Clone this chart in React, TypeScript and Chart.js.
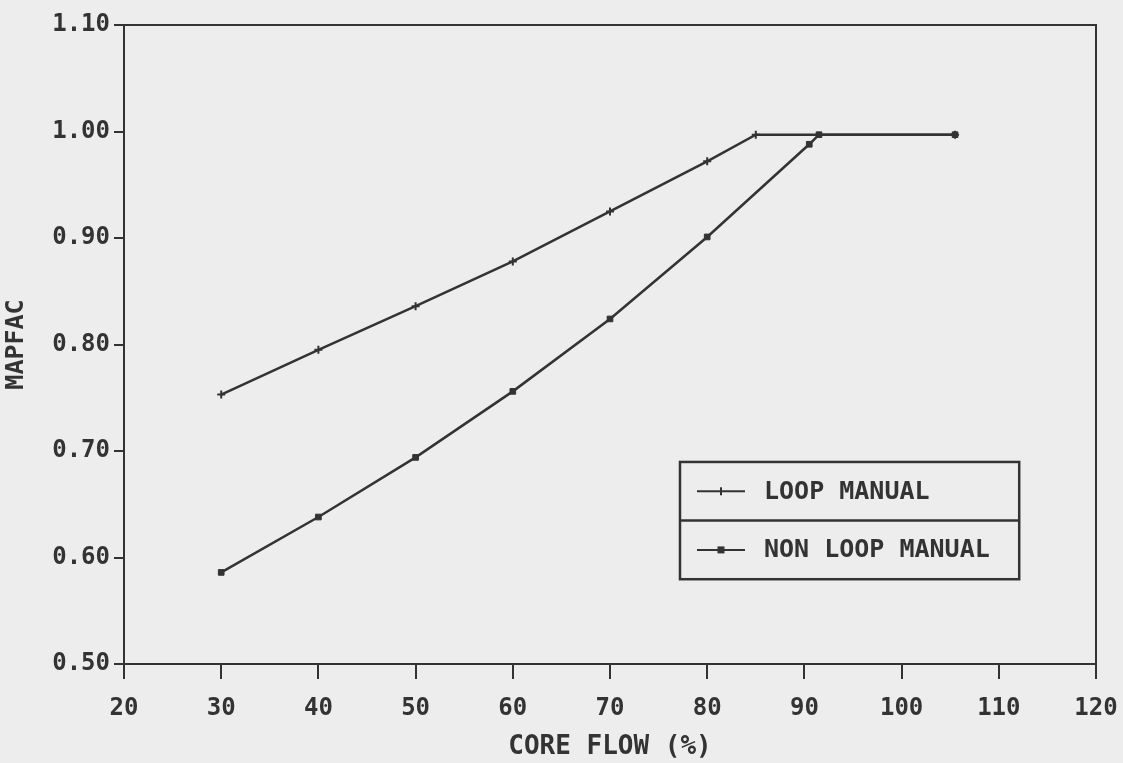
import React, { useEffect, useRef } from "react";
import { Chart, registerables } from "chart.js";

Chart.register(...registerables);

const loopManualX = [30, 40, 50, 60, 70, 80, 85, 105.5];
const loopManualY = [0.753, 0.795, 0.836, 0.878, 0.925, 0.972, 0.997, 0.997];
const nonLoopX = [30, 40, 50, 60, 70, 80, 90.5, 91.5, 105.5];
const nonLoopY = [0.586, 0.638, 0.694, 0.756, 0.824, 0.901, 0.988, 0.997, 0.997];
const seriesLabels = ["LOOP MANUAL", "NON LOOP MANUAL"];
const xTicks = [20, 30, 40, 50, 60, 70, 80, 90, 100, 110, 120];
const yTicks = [0.5, 0.6, 0.7, 0.8, 0.9, 1.0, 1.1];
const xTitle = "CORE FLOW (%)";
const yTitle = "MAPFAC";

const INK = "#333333";
const BG = "#ededed";
const FONT = "'DejaVu Sans Mono', monospace";

const bgPlugin = {
  id: "bg",
  beforeDraw(chart: any) {
    const ctx = chart.ctx;
    ctx.save();
    ctx.fillStyle = BG;
    ctx.fillRect(0, 0, chart.width, chart.height);
    ctx.restore();
  },
};

const framePlugin = {
  id: "frame",
  afterDatasetsDraw(chart: any) {
    const { ctx, chartArea } = chart;
    ctx.save();
    ctx.strokeStyle = INK;
    ctx.lineWidth = 2;
    ctx.strokeRect(chartArea.left, chartArea.top, chartArea.right - chartArea.left, chartArea.bottom - chartArea.top);
    ctx.restore();
  },
};

const boxLegendPlugin = {
  id: "boxLegend",
  afterDraw(chart: any) {
    const { ctx } = chart;
    const xs = chart.scales.x;
    const ys = chart.scales.y;
    const left = xs.getPixelForValue(77.2);
    const right = xs.getPixelForValue(112.1);
    const top = ys.getPixelForValue(0.6897);
    const bottom = ys.getPixelForValue(0.5796);
    const mid = (top + bottom) / 2;
    ctx.save();
    ctx.fillStyle = BG;
    ctx.fillRect(left, top, right - left, bottom - top);
    ctx.strokeStyle = INK;
    ctx.lineWidth = 2.5;
    ctx.strokeRect(left, top, right - left, bottom - top);
    ctx.beginPath();
    ctx.moveTo(left, mid);
    ctx.lineTo(right, mid);
    ctx.stroke();
    const rows = [(top + mid) / 2, (mid + bottom) / 2];
    chart.data.datasets.forEach((ds: any, i: number) => {
      const y = rows[i];
      const x0 = left + 17;
      const x1 = left + 65;
      ctx.strokeStyle = ds.borderColor;
      ctx.lineWidth = 2;
      ctx.beginPath();
      ctx.moveTo(x0, y);
      ctx.lineTo(x1, y);
      ctx.stroke();
      ctx.fillStyle = ds.pointBackgroundColor;
      ctx.strokeStyle = ds.pointBorderColor;
      ctx.lineWidth = 2;
      const cx = (x0 + x1) / 2;
      if (ds.pointStyle === "rect") {
        ctx.fillRect(cx - 3.5, y - 3.5, 7, 7);
      } else {
        ctx.beginPath();
        ctx.moveTo(cx, y - 4);
        ctx.lineTo(cx, y + 4);
        ctx.stroke();
      }
      ctx.fillStyle = INK;
      ctx.font = "bold 25px " + FONT;
      ctx.textAlign = "left";
      ctx.textBaseline = "middle";
      ctx.fillText(ds.label, left + 84, y + 1);
    });
    ctx.restore();
  },
};

export default function App() {
  const ref = useRef<HTMLCanvasElement>(null);
  useEffect(() => {
    document.body.style.margin = "0";
    document.body.style.background = BG;
    const canvas = ref.current!;
    const chart = new Chart(canvas, {
      type: "scatter",
      data: {
        datasets: [
          {
            label: seriesLabels[0],
            data: loopManualX.map((x, i) => ({ x, y: loopManualY[i] })),
            showLine: true,
            borderColor: INK,
            borderWidth: 2.5,
            pointStyle: "cross",
            pointRadius: 4,
            pointBorderWidth: 2,
            pointBorderColor: INK,
            pointBackgroundColor: INK,
          },
          {
            label: seriesLabels[1],
            data: nonLoopX.map((x, i) => ({ x, y: nonLoopY[i] })),
            showLine: true,
            borderColor: INK,
            borderWidth: 2.5,
            pointStyle: "rect",
            pointRadius: 4,
            pointBorderWidth: 1,
            pointBorderColor: INK,
            pointBackgroundColor: INK,
          },
        ],
      },
      options: {
        animation: false,
        responsive: false,
        layout: { padding: { top: 25, right: 27, left: 0, bottom: 0 } },
        plugins: {
          legend: { display: false },
          tooltip: { enabled: false },
        },
        scales: {
          x: {
            type: "linear",
            min: 20,
            max: 120,
            afterBuildTicks: (s: any) => {
              s.ticks = xTicks.map((v) => ({ value: v }));
            },
            afterFit: (s: any) => {
              s.height = 99;
              s.paddingLeft = 0;
              s.paddingRight = 0;
            },
            ticks: {
              color: INK,
              font: { family: FONT, size: 24, weight: "bold" },
              padding: 15,
              maxRotation: 0,
              autoSkip: false,
            },
            grid: { drawOnChartArea: false, drawTicks: true, tickLength: 15, color: INK, lineWidth: 2 },
            border: { display: true, color: INK, width: 2 },
            title: {
              display: true,
              text: xTitle,
              color: INK,
              font: { family: FONT, size: 26, weight: "bold" },
              padding: { top: 0, bottom: 0 },
            },
          },
          y: {
            type: "linear",
            min: 0.5,
            max: 1.1,
            afterBuildTicks: (s: any) => {
              s.ticks = yTicks.map((v) => ({ value: v }));
            },
            afterFit: (s: any) => {
              s.width = 124;
              s.paddingTop = 0;
              s.paddingBottom = 0;
            },
            ticks: {
              color: INK,
              font: { family: FONT, size: 24, weight: "bold" },
              padding: 4,
              autoSkip: false,
              callback: (v: any) => Number(v).toFixed(2),
            },
            grid: { drawOnChartArea: false, drawTicks: true, tickLength: 10, color: INK, lineWidth: 2 },
            border: { display: true, color: INK, width: 2 },
            title: {
              display: true,
              text: yTitle,
              color: INK,
              font: { family: FONT, size: 25, weight: "bold" },
              padding: { top: 1, bottom: 0 },
            },
          },
        },
      },
      plugins: [bgPlugin, framePlugin, boxLegendPlugin],
    } as any);
    return () => chart.destroy();
  }, []);
  return (
    <div style={{ width: 1123, height: 763 }}>
      <canvas ref={ref} width={1123} height={763} style={{ display: "block" }} />
    </div>
  );
}
